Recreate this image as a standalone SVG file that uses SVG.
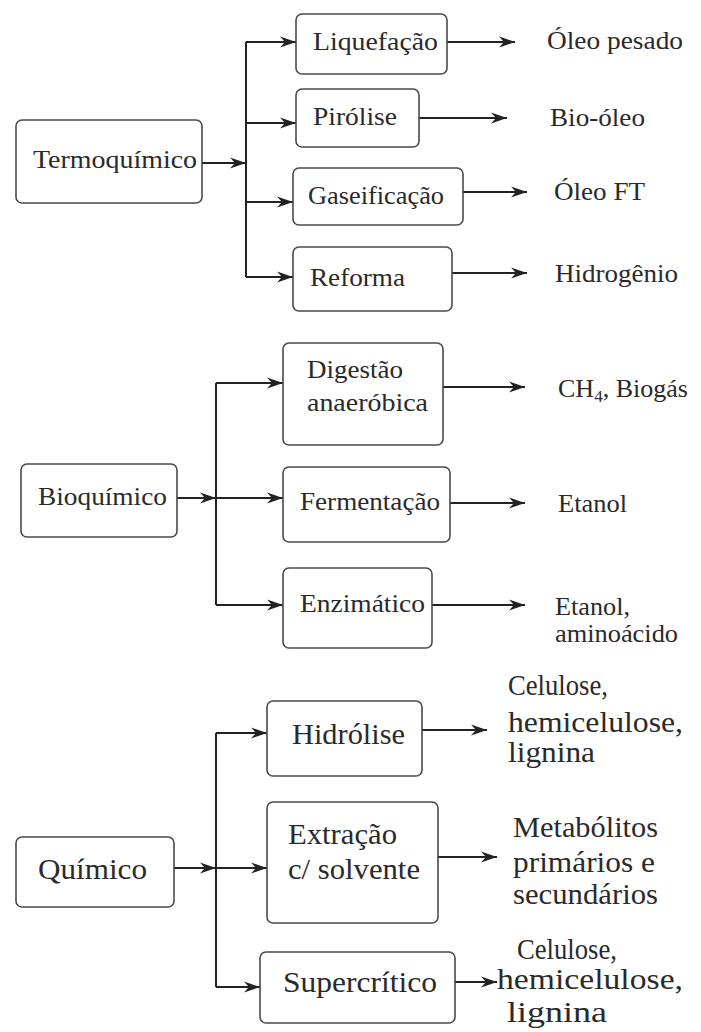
<svg xmlns="http://www.w3.org/2000/svg" width="701" height="1032" viewBox="0 0 701 1032" font-family="'Liberation Serif', 'Times New Roman', serif">
<style>
.box{fill:#fff;stroke:#4a4a4a;stroke-width:1.6}
text{font-family:"Liberation Serif","Times New Roman",serif;fill:#2a2a2a}
.s1{font-size:25px}
.s2{font-size:26px}
.s3{font-size:29px}
.ln{stroke:#222;stroke-width:2;fill:none}
.ar{stroke:#222;stroke-width:2;fill:none;marker-end:url(#ah)}
</style>
<defs>
<marker id="ah" markerUnits="userSpaceOnUse" markerWidth="18" markerHeight="12" refX="16" refY="6" orient="auto">
<path d="M0,0.5 L16,6 L0,11.5 L5,6 z" fill="#222"/>
</marker>
</defs>
<rect width="701" height="1032" fill="#fff"/>

<g id="connectors">
<line class="ar" x1="202" y1="163" x2="246" y2="163"/>
<line class="ln" x1="246" y1="42" x2="246" y2="277"/>
<line class="ar" x1="246" y1="42" x2="296" y2="42"/>
<line class="ar" x1="246" y1="123" x2="296" y2="123"/>
<line class="ar" x1="246" y1="202" x2="293" y2="202"/>
<line class="ar" x1="246" y1="277" x2="293" y2="277"/>
<line class="ar" x1="447" y1="42" x2="515" y2="42"/>
<line class="ar" x1="419" y1="118" x2="507" y2="118"/>
<line class="ar" x1="463" y1="192" x2="527" y2="192"/>
<line class="ar" x1="447" y1="273" x2="527" y2="273"/>

<line class="ar" x1="177" y1="498" x2="216" y2="498"/>
<line class="ln" x1="216" y1="383" x2="216" y2="605"/>
<line class="ar" x1="216" y1="383" x2="283" y2="383"/>
<line class="ar" x1="216" y1="498" x2="283" y2="498"/>
<line class="ar" x1="216" y1="605" x2="283" y2="605"/>
<line class="ar" x1="443" y1="387" x2="525" y2="387"/>
<line class="ar" x1="450" y1="503" x2="525" y2="503"/>
<line class="ar" x1="425" y1="605" x2="525" y2="605"/>

<line class="ar" x1="170" y1="868" x2="216" y2="868"/>
<line class="ln" x1="216" y1="733" x2="216" y2="987"/>
<line class="ar" x1="216" y1="733" x2="267" y2="733"/>
<line class="ar" x1="216" y1="868" x2="267" y2="868"/>
<line class="ar" x1="216" y1="987" x2="260" y2="987"/>
<line class="ar" x1="422" y1="730" x2="487" y2="730"/>
<line class="ar" x1="433" y1="857" x2="497" y2="857"/>
<line class="ar" x1="455" y1="982" x2="497" y2="982"/>
</g>

<g id="termoquimico"><rect class="box" x="16" y="120" width="186" height="83" rx="6"/><text class="s2" x="33" y="168" textLength="164" lengthAdjust="spacingAndGlyphs">Termoquímico</text></g>
<g id="liquefacao"><rect class="box" x="296" y="14" width="151" height="60" rx="6"/><text class="s1" x="313" y="50" textLength="125" lengthAdjust="spacingAndGlyphs">Liquefação</text></g>
<g id="pirolise"><rect class="box" x="296" y="89" width="123" height="58" rx="6"/><text class="s1" x="313" y="125" textLength="84" lengthAdjust="spacingAndGlyphs">Pirólise</text></g>
<g id="gaseificacao"><rect class="box" x="293" y="168" width="170" height="57" rx="6"/><text class="s1" x="308" y="204" textLength="136" lengthAdjust="spacingAndGlyphs">Gaseificação</text></g>
<g id="reforma"><rect class="box" x="293" y="247" width="159" height="64" rx="6"/><text class="s1" x="310" y="286" textLength="95" lengthAdjust="spacingAndGlyphs">Reforma</text></g>
<g id="oleo-pesado"><text class="s1" x="547" y="49" textLength="136" lengthAdjust="spacingAndGlyphs">Óleo pesado</text></g>
<g id="bio-oleo"><text class="s1" x="550" y="126" textLength="95" lengthAdjust="spacingAndGlyphs">Bio-óleo</text></g>
<g id="oleo-ft"><text class="s1" x="554" y="200" textLength="91" lengthAdjust="spacingAndGlyphs">Óleo FT</text></g>
<g id="hidrogenio"><text class="s1" x="555" y="282" textLength="123" lengthAdjust="spacingAndGlyphs">Hidrogênio</text></g>

<g id="bioquimico"><rect class="box" x="21" y="464" width="156" height="73" rx="6"/><text class="s2" x="38" y="505" textLength="129" lengthAdjust="spacingAndGlyphs">Bioquímico</text></g>
<g id="digestao"><rect class="box" x="283" y="343" width="160" height="102" rx="6"/><text class="s2" x="307" y="378" textLength="96" lengthAdjust="spacingAndGlyphs">Digestão</text><text class="s2" x="307" y="411" textLength="121" lengthAdjust="spacingAndGlyphs">anaeróbica</text></g>
<g id="fermentacao"><rect class="box" x="283" y="467" width="167" height="75" rx="6"/><text class="s2" x="300" y="510" textLength="140" lengthAdjust="spacingAndGlyphs">Fermentação</text></g>
<g id="enzimatico"><rect class="box" x="283" y="568" width="149" height="80" rx="6"/><text class="s2" x="300" y="612" textLength="125" lengthAdjust="spacingAndGlyphs">Enzimático</text></g>
<g id="ch4"><text class="s2" x="558" y="397">CH<tspan font-size="17" dy="5">4</tspan><tspan dy="-5">, Biogás</tspan></text></g>
<g id="etanol"><text class="s2" x="558" y="512" textLength="69" lengthAdjust="spacingAndGlyphs">Etanol</text></g>
<g id="etanol-amino"><text class="s2" x="555" y="615" textLength="75" lengthAdjust="spacingAndGlyphs">Etanol,</text><text class="s2" x="555" y="642" textLength="123" lengthAdjust="spacingAndGlyphs">aminoácido</text></g>

<g id="quimico"><rect class="box" x="16" y="837" width="158" height="70" rx="6"/><text class="s3" x="38" y="879" textLength="109" lengthAdjust="spacingAndGlyphs">Químico</text></g>
<g id="hidrolise"><rect class="box" x="267" y="701" width="155" height="75" rx="6"/><text class="s3" x="292" y="744" textLength="113" lengthAdjust="spacingAndGlyphs">Hidrólise</text></g>
<g id="extracao"><rect class="box" x="267" y="802" width="171" height="121" rx="6"/><text class="s3" x="288" y="844" textLength="109" lengthAdjust="spacingAndGlyphs">Extração</text><text class="s3" x="288" y="879" textLength="132" lengthAdjust="spacingAndGlyphs">c/ solvente</text></g>
<g id="supercritico"><rect class="box" x="260" y="952" width="195" height="71" rx="6"/><text class="s3" x="283" y="992" textLength="154" lengthAdjust="spacingAndGlyphs">Supercrítico</text></g>
<g id="out-hidrolise"><text class="s3" x="508" y="695" textLength="100" lengthAdjust="spacingAndGlyphs">Celulose,</text><text class="s3" x="508" y="732" textLength="175" lengthAdjust="spacingAndGlyphs">hemicelulose,</text><text class="s3" x="508" y="762" textLength="87" lengthAdjust="spacingAndGlyphs">lignina</text></g>
<g id="out-extracao"><text class="s3" x="513" y="837" textLength="145" lengthAdjust="spacingAndGlyphs">Metabólitos</text><text class="s3" x="513" y="872" textLength="142" lengthAdjust="spacingAndGlyphs">primários e</text><text class="s3" x="513" y="904" textLength="145" lengthAdjust="spacingAndGlyphs">secundários</text></g>
<g id="out-supercritico"><text class="s3" x="517" y="959" textLength="100" lengthAdjust="spacingAndGlyphs">Celulose,</text><text class="s3" x="497" y="989" textLength="186" lengthAdjust="spacingAndGlyphs">hemicelulose,</text><text class="s3" x="507" y="1022" textLength="100" lengthAdjust="spacingAndGlyphs">lignina</text></g>
</svg>
